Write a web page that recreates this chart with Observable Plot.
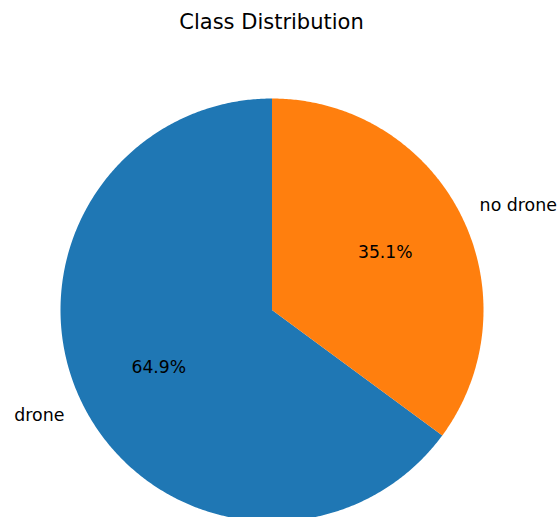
<!DOCTYPE html>
<html>
<head>
<meta charset="utf-8">
<script src="https://cdn.jsdelivr.net/npm/d3@7"></script>
<script src="https://cdn.jsdelivr.net/npm/@observablehq/plot@0.6"></script>
<style>
  html, body { margin: 0; padding: 0; background: #fff; }
  #title {
    box-sizing: border-box;
    width: 543px;
    height: 42px;
    padding-top: 10px;
    font-family: "DejaVu Sans", sans-serif;
    font-size: 21px;
    line-height: 24px;
    text-align: center;
    color: #000;
  }
  #chart svg { display: block; }
</style>
</head>
<body>
<div id="title">Class Distribution</div>
<div id="chart"></div>
<script>
// Data
const categories = ["drone", "no drone"];
const values = [64.9, 35.1];
const colors = ["#1f77b4", "#ff7f0e"];

// Layout settings (matplotlib-style pie: startangle 90, counterclockwise)
const W = 560, H = 475;
const cx = 271.5, cy = 267.5, R = 211.5; // pixel geometry
const startAngle = 90;

const total = d3.sum(values);
const wedges = [];
const labels = [];
let a0 = startAngle;
values.forEach((v, i) => {
  const span = v / total * 360;
  const a1 = a0 + span;
  const pts = [{cat: categories[i], x: 0, y: 0}];
  const n = Math.max(2, Math.ceil(span / 0.5));
  for (let k = 0; k <= n; k++) {
    const t = (a0 + (a1 - a0) * k / n) * Math.PI / 180;
    pts.push({cat: categories[i], x: Math.cos(t), y: Math.sin(t)});
  }
  pts.push({cat: categories[i], x: 0, y: 0});
  wedges.push(...pts);
  const mid = (a0 + a1) / 2 * Math.PI / 180;
  labels.push({
    cat: categories[i],
    pct: (v / total * 100).toFixed(1) + "%",
    lx: 1.1 * Math.cos(mid), ly: 1.1 * Math.sin(mid),
    px: 0.6 * Math.cos(mid), py: 0.6 * Math.sin(mid),
    anchor: Math.cos(mid) >= 0 ? "start" : "end"
  });
  a0 = a1;
});

const xDomain = [(0 - cx) / R, (W - cx) / R];
const yDomain = [(cy - H) / R, cy / R];

const chart = Plot.plot({
  width: W,
  height: H,
  margin: 0,
  x: {domain: xDomain, axis: null},
  y: {domain: yDomain, axis: null},
  color: {domain: categories, range: colors},
  style: {fontFamily: "DejaVu Sans, sans-serif", background: "#fff"},
  marks: [
    Plot.line(wedges, {x: "x", y: "y", z: "cat", fill: "cat", stroke: "none"}),
    Plot.text(labels.filter(d => d.anchor === "start"), {x: "lx", y: "ly", text: "cat", textAnchor: "start", fontSize: 17.4, fill: "#000"}),
    Plot.text(labels.filter(d => d.anchor === "end"), {x: "lx", y: "ly", text: "cat", textAnchor: "end", fontSize: 17.4, fill: "#000"}),
    Plot.text(labels, {x: "px", y: "py", text: "pct", textAnchor: "middle", fontSize: 17.2, fill: "#000"})
  ]
});
document.getElementById("chart").appendChild(chart);
</script>
</body>
</html>
